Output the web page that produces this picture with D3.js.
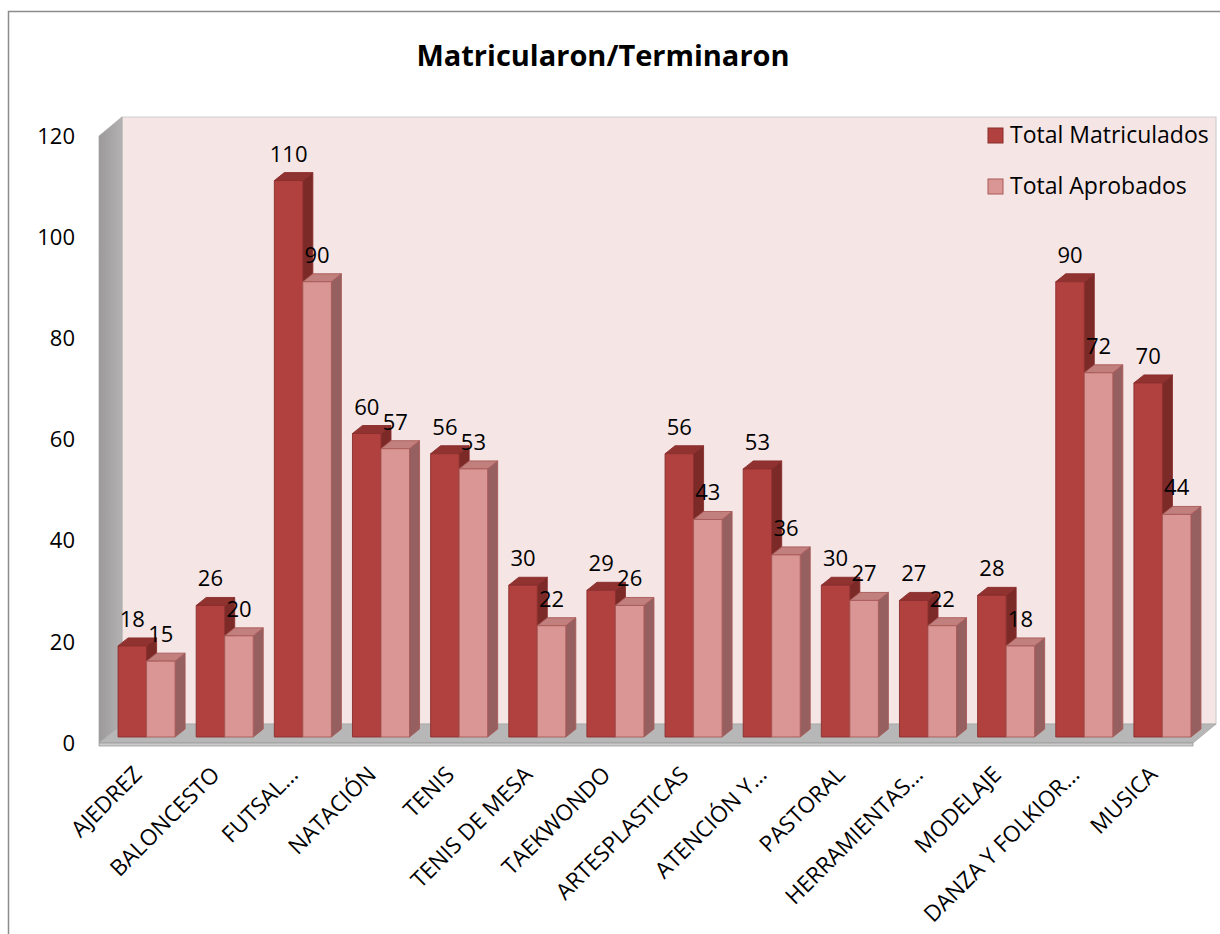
<!DOCTYPE html>
<html>
<head>
<meta charset="utf-8">
<script src="https://cdn.jsdelivr.net/npm/d3@7"></script>
<style>
  body { margin: 0; background: #fff; }
  svg { display: block; font-family: "Open Sans", Lato, sans-serif; }
</style>
</head>
<body>
<svg id="chart" width="1220" height="934"></svg>
<script>
// data
const categorias = ["AJEDREZ", "BALONCESTO", "FUTSAL…", "NATACIÓN", "TENIS", "TENIS DE MESA",
  "TAEKWONDO", "ARTESPLASTICAS", "ATENCIÓN Y…", "PASTORAL", "HERRAMIENTAS…", "MODELAJE",
  "DANZA Y FOLKIOR…", "MUSICA"];
const matriculados = [18, 26, 110, 60, 56, 30, 29, 56, 53, 30, 27, 28, 90, 70];
const aprobados = [15, 20, 90, 57, 53, 22, 26, 43, 36, 27, 22, 18, 72, 44];
const series = ["Total Matriculados", "Total Aprobados"];
const yTicks = [0, 20, 40, 60, 80, 100, 120];

const colores = {
  "Total Matriculados": { front: "#b0413e", top: "#8f3230", side: "#7b2a28", line: "#8a2e2c" },
  "Total Aprobados": { front: "#d99694", top: "#c17f7d", side: "#966060", line: "#a85a58" }
};

const svg = d3.select("#chart");

// outer border (right/bottom sides fall outside the picture)
svg.append("rect")
  .attr("x", 8.5).attr("y", 11.5).attr("width", 1240).attr("height", 950)
  .attr("fill", "none").attr("stroke", "#8c8c8c").attr("stroke-width", 1.5);

// front plane scales
const x = d3.scaleBand().domain(categorias).range([99, 1193]);
const y = d3.scaleLinear().domain([0, 120]).range([743, 136]);
const sub = d3.scaleBand().domain(series).range([0, x.bandwidth()]).paddingOuter(0.37);

// depth offsets
const wall = { dx: 23, dy: -19 };
const barOff = { dx: 8.5, dy: -6 };
const barDepth = { dx: 10, dy: -8 };

const defs = svg.append("defs");
const g1 = defs.append("linearGradient").attr("id", "sidewall").attr("x1", 0).attr("y1", 0).attr("x2", 1).attr("y2", 0);
g1.append("stop").attr("offset", 0).attr("stop-color", "#9b9999");
g1.append("stop").attr("offset", 1).attr("stop-color", "#b3b1b1");

const pts = (arr) => arr.map((p) => p.join(",")).join(" ");
const x0 = x.range()[0], x1 = x.range()[1];
const yb = y(0), yt = y(120);

// back wall
svg.append("polygon")
  .attr("points", pts([[x0 + wall.dx, yt + wall.dy], [x1 + wall.dx, yt + wall.dy], [x1 + wall.dx, yb + wall.dy], [x0 + wall.dx, yb + wall.dy]]))
  .attr("fill", "#f5e5e5").attr("stroke", "#cfcfcf").attr("stroke-width", 1.2);

// side wall
svg.append("polygon")
  .attr("points", pts([[x0, yt], [x0 + wall.dx, yt + wall.dy], [x0 + wall.dx, yb + wall.dy], [x0, yb]]))
  .attr("fill", "url(#sidewall)").attr("stroke", "#a8a8a8").attr("stroke-width", 0.8);

// floor
svg.append("polygon")
  .attr("points", pts([[x0, yb], [x0 + wall.dx, yb + wall.dy], [x1 + wall.dx, yb + wall.dy], [x1, yb]]))
  .attr("fill", "#b7b7b7").attr("stroke", "#a6a6a6").attr("stroke-width", 0.8);
svg.append("polygon")
  .attr("points", pts([[x0, yb], [x1, yb], [x1, yb + 3], [x0, yb + 3]]))
  .attr("fill", "#cbcbcb").attr("stroke", "#9a9a9a").attr("stroke-width", 0.8);

// bars
const datos = categorias.map((c, i) => ({ cat: c, vals: [matriculados[i], aprobados[i]] }));
const bars = svg.append("g");
datos.forEach((d) => {
  series.forEach((s, j) => {
    const v = d.vals[j];
    const c = colores[s];
    const bx = x(d.cat) + sub(s) + barOff.dx;
    const bw = sub.bandwidth();
    const top = y(v) + barOff.dy;
    const bot = y(0) + barOff.dy;
    const g = bars.append("g").attr("stroke", c.line).attr("stroke-width", 0.9).attr("stroke-linejoin", "round");
    g.append("polygon")
      .attr("points", pts([[bx + bw, top], [bx + bw + barDepth.dx, top + barDepth.dy], [bx + bw + barDepth.dx, bot + barDepth.dy], [bx + bw, bot]]))
      .attr("fill", c.side);
    g.append("polygon")
      .attr("points", pts([[bx, top], [bx + barDepth.dx, top + barDepth.dy], [bx + bw + barDepth.dx, top + barDepth.dy], [bx + bw, top]]))
      .attr("fill", c.top);
    g.append("rect")
      .attr("x", bx).attr("y", top).attr("width", bw).attr("height", bot - top)
      .attr("fill", c.front);
    svg.append("text")
      .attr("x", bx + bw / 2).attr("y", top - 19)
      .attr("text-anchor", "middle").attr("font-size", 22).attr("fill", "#000")
      .text(v);
  });
});

// y axis labels
svg.append("g").selectAll("text").data(yTicks).join("text")
  .attr("x", 75).attr("y", (d) => y(d)).attr("dy", "0.35em")
  .attr("text-anchor", "end").attr("font-size", 22).attr("fill", "#000")
  .text((d) => d);

// category labels
svg.append("g").selectAll("text").data(categorias).join("text")
  .attr("text-anchor", "end").attr("font-size", 22.5).attr("fill", "#000")
  .attr("transform", (d) => `translate(${x(d) + x.bandwidth() / 2 + 5},${776}) rotate(-45)`)
  .text((d) => d);

// title
svg.append("text")
  .attr("x", 603).attr("y", 66).attr("text-anchor", "middle")
  .attr("font-size", 29).attr("font-weight", "bold").attr("fill", "#000")
  .text("Matricularon/Terminaron");

// legend
const legend = svg.append("g").attr("transform", "translate(988,143)");
series.forEach((s, i) => {
  legend.append("rect")
    .attr("x", 0).attr("y", i * 51 - 15).attr("width", 15).attr("height", 15)
    .attr("fill", colores[s].front).attr("stroke", colores[s].line).attr("stroke-width", 1);
  legend.append("text")
    .attr("x", 22).attr("y", i * 51).attr("font-size", 23).attr("fill", "#000")
    .text(s);
});
</script>
</body>
</html>
